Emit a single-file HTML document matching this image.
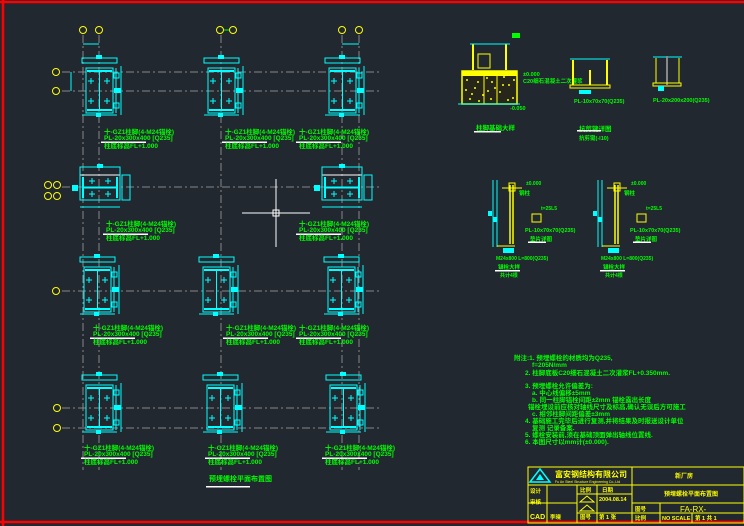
<!DOCTYPE html>
<html><head><meta charset="utf-8"><style>
html,body{margin:0;padding:0;background:#212830;}
svg{display:block;}
text{font-family:"Liberation Sans","Noto Sans CJK SC",sans-serif;}
</style></head><body>
<svg width="744" height="526" viewBox="0 0 744 526" xmlns="http://www.w3.org/2000/svg">
<rect width="744" height="526" fill="#212830"/>
<defs>
<g id="col">
 <rect x="0" y="0" width="27" height="45" fill="none" stroke="#0ff" stroke-width="1"/>
 <line x1="1" y1="3" x2="26" y2="3" stroke="#0ff" stroke-width="2"/>
 <line x1="1" y1="42" x2="26" y2="42" stroke="#0ff" stroke-width="2"/>
 <line x1="13.5" y1="3" x2="13.5" y2="42" stroke="#0ff" stroke-width="1"/>
 <g stroke="#0ff" stroke-width="1">
  <line x1="2" y1="13" x2="8" y2="13"/><line x1="5" y1="10" x2="5" y2="16"/>
  <line x1="18" y1="13" x2="24" y2="13"/><line x1="21" y1="10" x2="21" y2="16"/>
  <line x1="2" y1="33" x2="8" y2="33"/><line x1="5" y1="30" x2="5" y2="36"/>
  <line x1="18" y1="33" x2="24" y2="33"/><line x1="21" y1="30" x2="21" y2="36"/>
 </g>
 <rect x="-4" y="-10" width="35" height="5" fill="none" stroke="#0ff"/>
 <rect x="10" y="-13" width="6" height="4" fill="#0ff"/>
 <line x1="-4" y1="47" x2="31" y2="47" stroke="#0ff"/>
 <rect x="10" y="45" width="5" height="4" fill="#0ff"/>
 <line x1="30" y1="0" x2="30" y2="45" stroke="#0ff"/>
 <line x1="35" y1="-2" x2="35" y2="47" stroke="#0ff"/>
 <rect x="28" y="5" width="5" height="5" fill="none" stroke="#0ff"/>
 <rect x="28" y="20" width="7" height="5" fill="#0ff"/>
 <rect x="28" y="35" width="5" height="5" fill="none" stroke="#0ff"/>
</g>
<g id="colw">
 <rect x="0" y="0" width="40" height="25" fill="none" stroke="#fff" stroke-width="1"/>
 <line x1="3" y1="2" x2="3" y2="23" stroke="#0ff" stroke-width="2"/>
 <line x1="37" y1="2" x2="37" y2="23" stroke="#0ff" stroke-width="2"/>
 <line x1="3" y1="12.5" x2="37" y2="12.5" stroke="#0ff" stroke-width="2"/>
 <g stroke="#0ff">
  <line x1="9" y1="6" x2="15" y2="6"/><line x1="12" y1="3" x2="12" y2="9"/>
  <line x1="25" y1="6" x2="31" y2="6"/><line x1="28" y1="3" x2="28" y2="9"/>
  <line x1="9" y1="19" x2="15" y2="19"/><line x1="12" y1="16" x2="12" y2="22"/>
  <line x1="25" y1="19" x2="31" y2="19"/><line x1="28" y1="16" x2="28" y2="22"/>
 </g>
 <rect x="0" y="-8" width="40" height="33" fill="none" stroke="#0ff"/>
 <rect x="17" y="-11" width="6" height="4" fill="#0ff"/>
 <line x1="0" y1="32" x2="40" y2="32" stroke="#0ff"/>
 <rect x="42" y="0" width="8" height="25" fill="none" stroke="#0ff"/>
 <rect x="-8" y="10" width="6" height="6" fill="#0ff"/>
</g>
<g id="lbl">
 <text x="0" y="0" font-size="6.5" fill="#0f0" font-weight="bold">十-GZ1柱脚(4-M24锚栓)</text>
 <text x="0" y="6" font-size="6.5" fill="#0f0" font-weight="bold">PL-20x300x400 [Q235]</text>
 <rect x="-3" y="7.5" width="45" height="1.5" fill="#fff"/>
 <text x="0" y="14" font-size="6.5" fill="#0f0" font-weight="bold">柱底标高FL+1.000</text>
</g>
</defs>
<line x1="0" y1="2" x2="744" y2="2" stroke="#f00" stroke-width="2.5"/>
<line x1="3" y1="0" x2="3" y2="526" stroke="#f00" stroke-width="2.5"/>
<line x1="0" y1="522" x2="744" y2="522" stroke="#f00" stroke-width="2.5"/>
<g stroke="#888" stroke-width="1" stroke-dasharray="8,3,2,3">
 <line x1="83" y1="35" x2="83" y2="470"/><line x1="99" y1="35" x2="99" y2="470"/>
 <line x1="221" y1="35" x2="221" y2="470"/>
 <line x1="342" y1="35" x2="342" y2="470"/><line x1="359" y1="35" x2="359" y2="470"/>
 <line x1="62" y1="72" x2="380" y2="72"/><line x1="62" y1="91" x2="380" y2="91"/>
 <line x1="62" y1="187" x2="380" y2="187"/><line x1="62" y1="291" x2="380" y2="291"/>
 <line x1="62" y1="408" x2="380" y2="408"/><line x1="62" y1="428" x2="380" y2="428"/>
</g>
<g fill="none" stroke="#ff0" stroke-width="1">
 <circle cx="83" cy="30" r="3.5"/><circle cx="99" cy="30" r="3.5"/>
 <circle cx="220" cy="30" r="3.5"/><circle cx="233" cy="30" r="3.5"/>
 <circle cx="342" cy="30" r="3.5"/><circle cx="359" cy="30" r="3.5"/>
 <circle cx="56" cy="72" r="3.5"/><circle cx="56" cy="91" r="3.5"/>
 <circle cx="48" cy="185" r="3.5"/><circle cx="57" cy="185" r="3.5"/>
 <circle cx="48" cy="196" r="3.5"/><circle cx="57" cy="196" r="3.5"/>
 <circle cx="56" cy="291" r="3.5"/>
 <circle cx="57" cy="408" r="3.5"/><circle cx="57" cy="428" r="3.5"/>
</g>
<line x1="224" y1="30" x2="229" y2="30" stroke="#0f0"/>
<g stroke="#0ff"><line x1="83" y1="44" x2="99" y2="44"/><line x1="342" y1="44" x2="359" y2="44"/>
<line x1="71" y1="72" x2="71" y2="91"/></g>
<use href="#col" x="86" y="68"/>
<use href="#col" x="208" y="68"/>
<use href="#col" x="329" y="68"/>
<use href="#colw" x="80" y="175"/>
<use href="#colw" x="322" y="175"/>
<use href="#col" x="84" y="267"/>
<use href="#col" x="203" y="267"/>
<use href="#col" x="328" y="267"/>
<use href="#col" x="86" y="385"/>
<use href="#col" x="207" y="385"/>
<use href="#col" x="330" y="385"/>
<use href="#lbl" x="104" y="134"/>
<use href="#lbl" x="225" y="134"/>
<use href="#lbl" x="299" y="134"/>
<use href="#lbl" x="106" y="226"/>
<use href="#lbl" x="299" y="226"/>
<use href="#lbl" x="93" y="330"/>
<use href="#lbl" x="226" y="330"/>
<use href="#lbl" x="299" y="330"/>
<use href="#lbl" x="84" y="450"/>
<use href="#lbl" x="208" y="450"/>
<use href="#lbl" x="325" y="450"/>
<text x="209" y="481" font-size="7" fill="#0f0" font-weight="bold">预埋螺栓平面布置图</text>
<rect x="206" y="486" width="44" height="1.5" fill="#fff"/>
<g stroke="#fff"><line x1="242" y1="213" x2="310" y2="213"/><line x1="276" y1="179" x2="276" y2="247"/>
<rect x="273" y="210" width="6" height="6" fill="none"/></g>
<g>
 <rect x="462" y="71" width="55" height="33" fill="#26261a" stroke="#ff0" stroke-width="1.5"/>
 <g fill="#ff0">
  <circle cx="467" cy="80" r="1"/><circle cx="475" cy="88" r="1"/><circle cx="483" cy="95" r="1"/><circle cx="492" cy="82" r="1"/>
  <circle cx="500" cy="92" r="1"/><circle cx="509" cy="85" r="1"/><circle cx="513" cy="98" r="1"/><circle cx="470" cy="99" r="1"/>
  <circle cx="487" cy="78" r="1"/><circle cx="504" cy="77" r="1"/><circle cx="466" cy="90" r="1"/><circle cx="479" cy="101" r="1"/>
  <circle cx="491" cy="99" r="1"/><circle cx="508" cy="100" r="1"/><circle cx="514" cy="80" r="1"/><circle cx="478" cy="82" r="1"/>
  <circle cx="495" cy="88" r="1"/><circle cx="503" cy="85" r="1"/><circle cx="472" cy="94" r="1"/><circle cx="488" cy="91" r="1"/>
 </g>
 <rect x="462" y="71" width="55" height="5" fill="#ff0"/>
 <line x1="484" y1="76" x2="484" y2="104" stroke="#ff0"/><line x1="497" y1="76" x2="497" y2="104" stroke="#ff0"/>
 <line x1="473" y1="44" x2="473" y2="70" stroke="#ff0" stroke-width="2"/><line x1="506" y1="44" x2="506" y2="70" stroke="#ff0" stroke-width="2"/>
 <line x1="470" y1="44" x2="510" y2="44" stroke="#0ff"/>
 <rect x="478" y="54" width="12" height="14" fill="none" stroke="#ff0"/>
 <line x1="458" y1="104" x2="520" y2="104" stroke="#0ff"/>
 <rect x="512" y="33" width="8" height="5" fill="#0f0"/>
 <text x="523" y="76" font-size="5.5" fill="#0f0" font-weight="bold">±0.000</text>
 <text x="523" y="83" font-size="5.5" fill="#0f0" font-weight="bold">C20细石混凝土二次灌浆</text>
 <text x="510" y="110" font-size="5.5" fill="#0f0" font-weight="bold">-0.050</text>
 <text x="476" y="130" font-size="6.5" fill="#0f0" font-weight="bold">柱脚基础大样</text>
 <rect x="474" y="131" width="27" height="1.5" fill="#fff"/>
</g>
<g>
 <line x1="570" y1="59" x2="610" y2="59" stroke="#0ff"/>
 <line x1="573" y1="60" x2="573" y2="85" stroke="#ff0" stroke-width="2"/><line x1="607" y1="60" x2="607" y2="85" stroke="#ff0" stroke-width="2"/>
 <line x1="590" y1="70" x2="590" y2="85" stroke="#ff0" stroke-width="2"/>
 <rect x="570" y="85" width="40" height="3" fill="none" stroke="#ff0"/>
 <rect x="579" y="90" width="12" height="4" fill="#0ff"/>
 <text x="574" y="103" font-size="5.5" fill="#0f0" font-weight="bold">PL-10x70x70(Q235)</text>
 <text x="579" y="131" font-size="6.5" fill="#0f0" font-weight="bold">抗剪键详图</text>
 <rect x="577" y="130" width="24" height="1.5" fill="#fff"/>
 <text x="579" y="140" font-size="5.5" fill="#0f0" font-weight="bold">抗剪键(-I10)</text>
</g>
<g>
 <line x1="653" y1="57" x2="682" y2="57" stroke="#0ff"/>
 <line x1="656" y1="58" x2="656" y2="83" stroke="#ff0"/><line x1="679" y1="58" x2="679" y2="83" stroke="#ff0"/>
 <line x1="667" y1="56" x2="667" y2="85" stroke="#888" stroke-width="2"/>
 <rect x="653" y="83" width="28" height="3" fill="none" stroke="#ff0"/>
 <rect x="658" y="86" width="6" height="5" fill="#0ff"/>
 <text x="653" y="102" font-size="5.5" fill="#0f0" font-weight="bold">PL-20x200x200(Q235)</text>
</g>
<g id="ld">
 <line x1="493" y1="180" x2="493" y2="247" stroke="#0ff"/><line x1="497" y1="180" x2="497" y2="247" stroke="#0ff"/>
 <rect x="488" y="211" width="4" height="5" fill="#0ff"/><rect x="493" y="217" width="4" height="5" fill="#0ff"/>
 <line x1="510" y1="185" x2="510" y2="244" stroke="#ff0" stroke-width="1.5"/><line x1="513" y1="185" x2="513" y2="244" stroke="#ff0" stroke-width="1.5"/>
 <rect x="509" y="183" width="6" height="8" fill="none" stroke="#ff0"/>
 <line x1="502" y1="188" x2="522" y2="188" stroke="#ff0"/>
 <rect x="503" y="248" width="11" height="5" fill="#0ff"/>
 <line x1="497" y1="246" x2="515" y2="246" stroke="#ff0"/>
 <text x="526" y="185" font-size="5" fill="#0f0" font-weight="bold">±0.000</text>
 <text x="519" y="195" font-size="5.5" fill="#0f0" font-weight="bold">钢柱</text>
 <text x="541" y="210" font-size="5" fill="#0f0" font-weight="bold">t=25L5</text>
 <rect x="532" y="214" width="9" height="8" fill="none" stroke="#ff0"/>
 <text x="525" y="232" font-size="5.5" fill="#0f0" font-weight="bold">PL-10x70x70(Q235)</text>
 <text x="530" y="241" font-size="5.5" fill="#0f0" font-weight="bold">垫片详图</text>
 <rect x="528" y="241.5" width="18" height="1.5" fill="#fff"/>
 <text x="496" y="260" font-size="5" fill="#0f0" font-weight="bold">M24x800 L=800(Q235)</text>
 <text x="498" y="269" font-size="5.5" fill="#0f0" font-weight="bold">锚栓大样</text>
 <rect x="495" y="270" width="25" height="1.5" fill="#fff"/>
 <text x="500" y="277" font-size="5" fill="#0f0" font-weight="bold">共计4根</text>
</g>
<use href="#ld" x="105" y="0"/>
<g font-size="6.5" fill="#0f0" font-weight="bold">
 <text x="514" y="360">附注:1. 预埋螺栓的材质均为Q235,</text>
 <text x="532" y="367">f=205N/mm</text>
 <text x="525" y="375">2. 柱脚底板C20细石混凝土二次灌浆FL+0.350mm.</text>
 <text x="525" y="388">3. 预埋螺栓允许偏差为:</text>
 <text x="532" y="395">a. 中心线偏移±5mm</text>
 <text x="532" y="402">b. 同一柱脚锚栓间距±2mm    锚栓露出长度</text>
 <text x="528" y="409">锚栓埋设前应核对轴线尺寸及标高,确认无误后方可施工</text>
 <text x="532" y="416">c. 相邻柱脚间距偏差±3mm</text>
 <text x="525" y="423">4. 基础施工完毕后进行复测,并将结果及时报送设计单位</text>
 <text x="532" y="430">复测  记录备案.</text>
 <text x="525" y="437">5. 螺栓安装前,须在基础顶面弹出轴线位置线.</text>
 <text x="525" y="444">6. 本图尺寸以mm计(±0.000).</text>
</g>
<g stroke="#ff0" stroke-width="1" fill="none">
 <rect x="528" y="467" width="216" height="56"/>
 <line x1="632" y1="467" x2="632" y2="523"/>
 <line x1="528" y1="485" x2="744" y2="485"/>
 <line x1="528" y1="503" x2="577" y2="503"/>
 <line x1="577" y1="494" x2="632" y2="494"/>
 <line x1="632" y1="503" x2="744" y2="503"/>
 <line x1="577" y1="513" x2="744" y2="513"/>
 <line x1="547" y1="485" x2="547" y2="523"/>
 <line x1="577" y1="485" x2="577" y2="523"/>
 <line x1="597" y1="485" x2="597" y2="523"/>
 <line x1="660" y1="503" x2="660" y2="523"/>
 <line x1="692" y1="513" x2="692" y2="523"/>
</g>
<polygon points="530,482 540,469 550,482" fill="none" stroke="#0ff" stroke-width="1.5"/>
<polygon points="536,480 540,474 544,480" fill="#0ff"/>
<text x="555" y="477" font-size="8" fill="#ff0" font-weight="bold">富安钢结构有限公司</text>
<text x="555" y="483" font-size="3.5" fill="#ff0">Fu An Steel Structure Engineering Co.,Ltd</text>
<text x="675" y="478" font-size="6" fill="#ff0" font-weight="bold">新厂房</text>
<text x="664" y="496" font-size="6" fill="#ff0" font-weight="bold">预埋螺栓平面布置图</text>
<g font-size="5.5" fill="#ff0" font-weight="bold">
 <text x="530" y="493">设计</text><text x="530" y="504">审核</text><text x="530" y="519" font-size="7">CAD</text>
 <text x="550" y="519">李晓</text>
 <text x="580" y="492">比例</text><text x="602" y="492">日期</text>
 <text x="599" y="501">2004.08.14</text>
 <text x="580" y="519">图号</text><text x="599" y="519">第 1 张</text>
 <text x="635" y="511">图号</text><text x="635" y="520">比例</text>
 <text x="662" y="520">NO SCALE</text>
 <text x="695" y="520">第 1 共 1</text>
</g>
<text x="680" y="512" font-size="8" fill="#ff0">FA-RX-</text>
<polygon points="580,502 587,496 594,502" fill="none" stroke="#ff0"/>
<polygon points="580,511 587,505 594,511" fill="none" stroke="#ff0"/>
</svg>
</body></html>
